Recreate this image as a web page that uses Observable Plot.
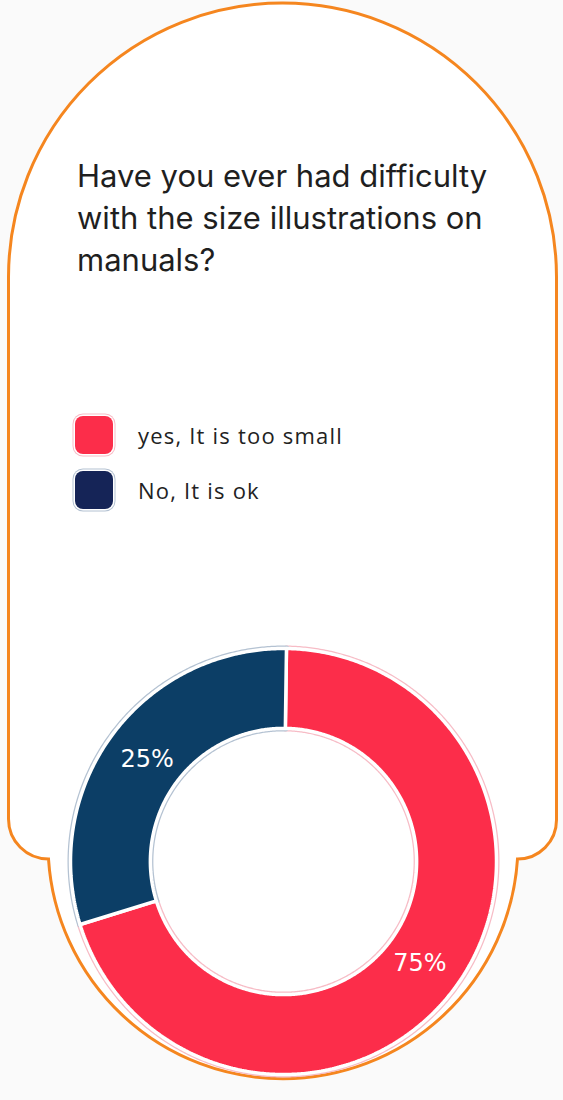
<!DOCTYPE html>
<html><head><meta charset="utf-8">
<script src="https://cdn.jsdelivr.net/npm/d3@7"></script>
<script src="https://cdn.jsdelivr.net/npm/@observablehq/plot@0.6"></script>
<style>
html,body{margin:0;padding:0;background:#fafafa;}
#page{position:relative;width:563px;height:1100px;overflow:hidden;background:#fafafa;}
#frame{position:absolute;left:0;top:0;}
#title{position:absolute;left:77px;top:155px;width:432px;font-family:Inter,sans-serif;font-size:31px;line-height:42px;color:#1f1f1f;margin:0;font-weight:400;}
#legend{position:absolute;left:75px;top:416px;font-family:"Open Sans",sans-serif;font-size:22px;letter-spacing:1.2px;color:#222;}
.item{display:flex;align-items:center;height:38px;margin-bottom:17px;}
.sw{width:38px;height:38px;border-radius:8px;margin-right:25px;flex:none;}
#chart{position:absolute;left:0;top:640px;}
</style></head>
<body>
<div id="page">
<svg id="frame" width="563" height="1100">
<path d="M 8.5 277 A 274 274 0 0 1 556.5 277 L 556.5 820 A 39 39 0 0 1 517.5 859 A 235 235 0 0 1 48.5 859 A 40 40 0 0 1 8.5 819 Z" fill="#ffffff" stroke="#f5861f" stroke-width="3"/>
</svg>
<h1 id="title"></h1>
<div id="legend"></div>
<div id="chart"></div>
</div>
<script>
const title = "Have you ever had difficulty with the size illustrations on manuals?";
const categories = ["yes, It is too small", "No, It is ok"];
const shares = [70, 30];               // slice sizes as drawn
const labels = ["75%", "25%"];         // printed labels
const sliceColors = ["#fc2d4a", "#0c3e66"];
const legendColors = ["#fc2d4a", "#152457"];
const outlineColors = ["#f7bcc6", "#b4c2d2"];

document.getElementById("title").textContent = title;
const leg = document.getElementById("legend");
categories.forEach((c, i) => {
  const it = document.createElement("div"); it.className = "item";
  const sw = document.createElement("div"); sw.className = "sw";
  sw.style.background = legendColors[i];
  sw.style.boxShadow = "0 0 0 1.5px #ffffff, 0 0 0 2.5px " + outlineColors[i];
  const t = document.createElement("span"); t.textContent = c;
  it.appendChild(sw); it.appendChild(t); leg.appendChild(it);
});

// donut geometry (unit radius = outer radius)
const outerR = 213, innerFrac = 0.625, startDeg = 0.8;
const W = 563, H = 460, cxPx = 283, cyPx = 221;
const total = d3.sum(shares);
const rows = [], labelRows = [];
let acc = 0;
shares.forEach((v, i) => {
  const a0 = (startDeg * Math.PI / 180) + acc / total * 2 * Math.PI;
  acc += v;
  const a1 = (startDeg * Math.PI / 180) + acc / total * 2 * Math.PI;
  const n = Math.max(2, Math.ceil((a1 - a0) / (Math.PI / 360)));
  const pts = [];
  for (let k = 0; k <= n; k++) { const a = a0 + (a1 - a0) * k / n; pts.push([Math.sin(a), Math.cos(a)]); }
  for (let k = n; k >= 0; k--) { const a = a0 + (a1 - a0) * k / n; pts.push([innerFrac * Math.sin(a), innerFrac * Math.cos(a)]); }
  pts.push(pts[0]);
  pts.forEach(([x, y]) => rows.push({cat: categories[i], x, y}));
  const am = (a0 + a1) / 2, lr = 0.80;
  labelRows.push({x: lr * Math.sin(am), y: lr * Math.cos(am), text: labels[i]});
});

const chart = Plot.plot({
  width: W, height: H, margin: 0,
  x: {domain: [-cxPx / outerR, (W - cxPx) / outerR], axis: null},
  y: {domain: [-(H - cyPx) / outerR, cyPx / outerR], axis: null},
  color: {domain: categories, range: sliceColors},
  style: {background: "transparent", overflow: "visible"},
  marks: [
    ...categories.map((c, i) => Plot.line(rows.filter(d => d.cat === c), {x: "x", y: "y", stroke: outlineColors[i], strokeWidth: 6, curve: "linear"})),
    Plot.line(rows, {x: "x", y: "y", z: "cat", fill: "cat", stroke: "#ffffff", strokeWidth: 3.5, curve: "linear", strokeLinejoin: "miter"}),
    Plot.text(labelRows, {x: "x", y: "y", text: "text", fill: "#ffffff", fontSize: 24, fontFamily: "DejaVu Sans"})
  ]
});
document.getElementById("chart").appendChild(chart);
</script>
</body></html>
